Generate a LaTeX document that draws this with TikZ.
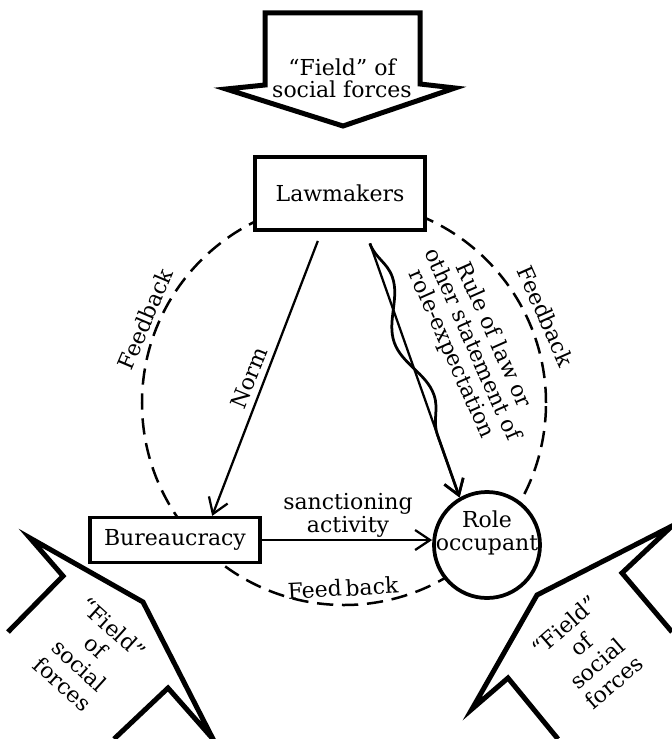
\documentclass[tikz,border=0pt]{standalone}
\usepackage{fontspec}
\setmainfont{DejaVu Serif}
\usetikzlibrary{arrows.meta,decorations.pathmorphing,calc}

\begin{document}
\begin{tikzpicture}[x=0.4pt,y=-0.4pt,
  font=\fontsize{8.8}{9.2}\selectfont,
  actor/.style={draw,line width=1.3pt,fill=white,minimum width=68pt,inner sep=0pt},
  flow/.style={line width=0.9pt,-{Straight Barb[length=6pt,width=8pt]}},
  feedback/.style={line width=1pt,dash pattern=on 6.5pt off 3.5pt},
  forces/.style={line width=2pt,line join=miter,miter limit=20},
  lbl/.style={align=center,inner sep=0pt}]

  \useasboundingbox (0,0) rectangle (672,739);

  % Feedback loop, behind the three actors
  \draw[feedback] (344,403) circle[radius=80.8pt];

  % ---- the three actors ----
  \node[actor,minimum height=29.2pt] (lawmakers) at (340,193.5) {Lawmakers};
  \node[actor,minimum height=18pt] (bureau) at (175,540) {Bureaucracy};
  \node[draw,circle,line width=1.5pt,fill=white,minimum size=42.4pt,inner sep=0pt] (role) at (487,545) {};
  \node[lbl] (roletext) at (487,533) {Role\\occupant};

  % ---- flows between them ----
  \draw[flow,shorten <=4pt] (lawmakers.244) -- (bureau.33);
  \draw[flow] (bureau.east) -- (bureau.east -| role.west);
  \coordinate (rulestart) at ($(lawmakers.304)!5pt!(role.120)$);
  \draw[flow] (rulestart) -- (role.120);
  \draw[flow,line width=1.1pt,decorate,
    decoration={snake,amplitude=4pt,segment length=50pt,pre length=0pt,post length=8pt}]
    (rulestart) -- (role.120);

  % ---- labels ----
  \node[lbl,rotate=68] (norm) at (249,378) {Norm};
  \node[lbl] (sanction) at (348,515) {sanctioning\\activity};
  \node[lbl,rotate=-66] (rule) at (472,345) {Rule of law or\\other statement of\\role-expectation};
  \node[lbl,rotate=67] (fbleft) at (145,319) {Feedback};
  \node[lbl,rotate=-66] (fbright) at (546,316) {Feedback};
  \node[lbl,rotate=3] (fbbottom) at (343,588) {Feed\,back};

  % ---- "Field" of social forces, three block arrows ----
  \draw[forces] (265,13) -- (420,13) -- (420,84) -- (455,88) -- (343,126) -- (226,89) -- (265,85) -- cycle;
  \node[lbl,font=\fontsize{8.8}{8.8}\selectfont] (fieldtop) at (342,78) {“Field” of\\social forces};

  \draw[forces] (8,632) -- (63,576) -- (30,538) -- (143,602) -- (213,739) -- (168,688) -- (114,739);
  \node[lbl,rotate=-42,font=\fontsize{8.8}{10}\selectfont] (fieldleft) at (88,656) {“Field”\\of\\social\\forces};

  \draw[forces] (672,632) -- (622,573) -- (672,526) -- (537,595) -- (472,709) -- (508,678) -- (558,739);
  \node[lbl,rotate=41,font=\fontsize{8.8}{10}\selectfont] (fieldright) at (589,654) {“Field”\\of\\social\\forces};

\end{tikzpicture}
\end{document}
